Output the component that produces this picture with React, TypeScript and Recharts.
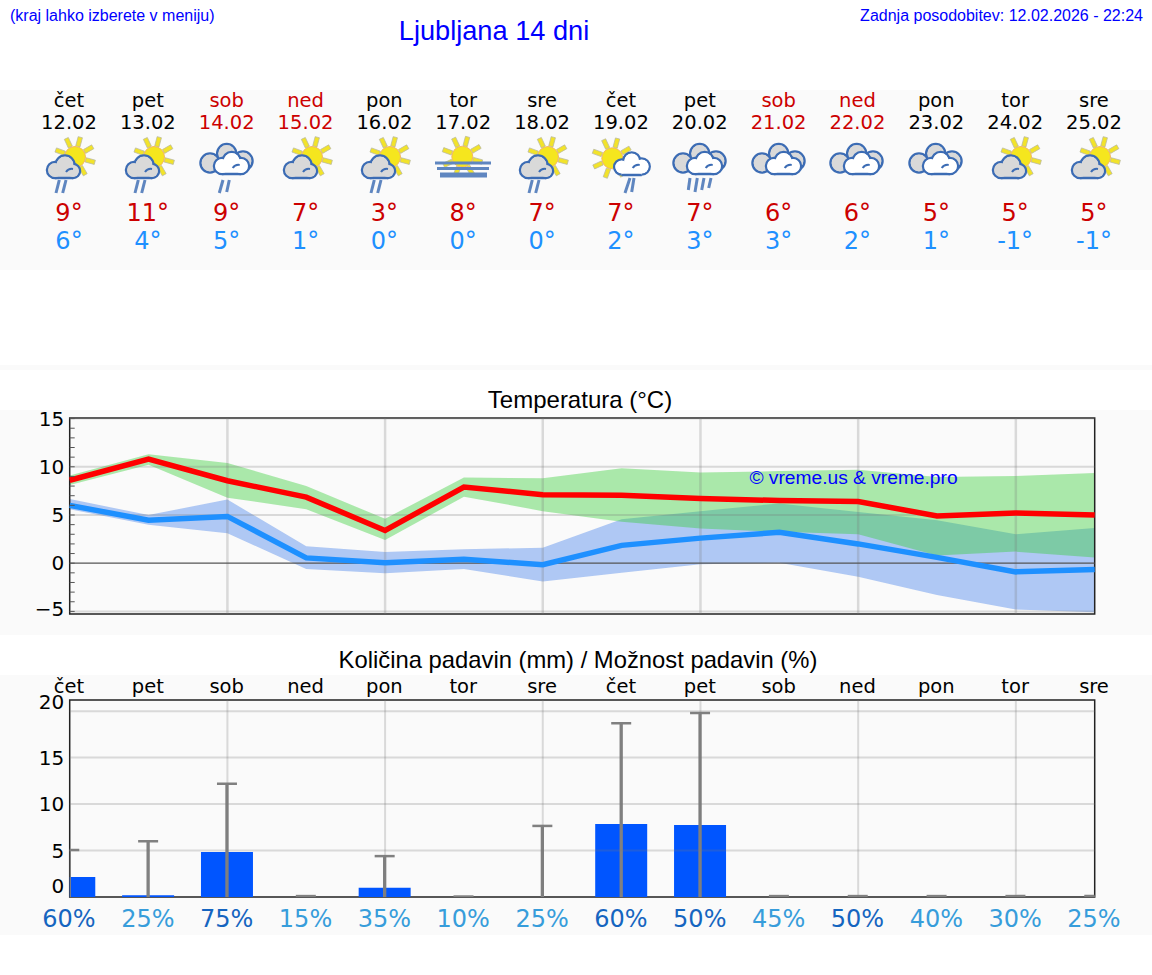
import {
  Area,
  Bar,
  ComposedChart,
  Line,
  ReferenceArea,
  ReferenceLine,
  XAxis,
  YAxis,
} from 'recharts'

const weekDays = ['čet', 'pet', 'sob', 'ned', 'pon', 'tor', 'sre', 'čet', 'pet', 'sob', 'ned', 'pon', 'tor', 'sre']
const dates = ['12.02', '13.02', '14.02', '15.02', '16.02', '17.02', '18.02', '19.02', '20.02', '21.02', '22.02', '23.02', '24.02', '25.02']
const weekendDates = ['14.02', '15.02', '21.02', '22.02']
const iconTypes = ['partlyRain', 'partlyRain', 'cloudRain', 'partly', 'partlyRain', 'fog', 'partlyRain', 'sunRain', 'cloudHeavy', 'cloud', 'cloud', 'cloud', 'partly', 'partly']
const maxLabels = [9, 11, 9, 7, 3, 8, 7, 7, 7, 6, 6, 5, 5, 5]
const minLabels = [6, 4, 5, 1, 0, 0, 0, 2, 3, 3, 2, 1, -1, -1]

const maxTemp = [8.6, 10.8, 8.55, 6.85, 3.4, 7.9, 7.1, 7.05, 6.7, 6.5, 6.4, 4.9, 5.2, 5.0]
const minTemp = [6.0, 4.45, 4.85, 0.55, 0.05, 0.4, -0.15, 1.85, 2.6, 3.2, 2.0, 0.6, -0.9, -0.65]
const maxBandLow = [8.1, 10.2, 6.8, 5.6, 2.4, 6.9, 5.4, 4.3, 3.6, 3.25, 3.0, 0.8, 1.2, 0.6]
const maxBandHigh = [9.1, 11.3, 10.4, 8.0, 4.6, 8.9, 8.8, 9.85, 9.4, 9.55, 9.7, 8.95, 9.05, 9.35]
const minBandLow = [5.6, 4.0, 3.1, -0.6, -1.05, -0.6, -1.9, -1.0, -0.1, 0.05, -1.4, -3.3, -4.8, -5.1]
const minBandHigh = [6.65, 5.0, 6.6, 1.75, 1.15, 1.45, 1.6, 4.55, 5.4, 6.2, 5.3, 4.45, 3.0, 3.65]

const rainAmount = [2.15, 0.2, 4.85, 0, 1.0, 0, 0, 7.85, 7.75, 0, 0, 0, 0, 0]
const rainTop = [5.05, 6.0, 12.2, 0.1, 4.4, 0.05, 7.65, 18.7, 19.8, 0.1, 0.1, 0.1, 0.1, 0.1]
const rainChance = [60, 25, 75, 15, 35, 10, 25, 60, 50, 45, 50, 40, 30, 25]

const tempTicks = [-5, -4, -3, -2, -1, 0, 1, 2, 3, 4, 5, 6, 7, 8, 9, 10, 11, 12, 13, 14, 15]
const tempGrid = [-5, 5, 10, 15]
const rainTicks = [0, 5, 10, 15, 20]
const rainGrid = [5, 10, 15, 20]
const gridDates = ['14.02', '16.02', '18.02', '20.02', '22.02', '24.02']

const tempRows = dates.map((date, i) => ({
  date,
  max: maxTemp[i],
  min: minTemp[i],
  maxBand: [maxBandLow[i], maxBandHigh[i]],
  minBand: [minBandLow[i], minBandHigh[i]],
}))

const rainRows = dates.map((date, i) => ({
  date,
  amount: rainAmount[i],
  top: rainTop[i],
}))

const DEJAVU = '"DejaVu Sans", sans-serif'
const ARIAL = '"Liberation Sans", Arial, sans-serif'
const GRID = 'rgba(120,120,120,0.25)'
const FRAME = '#222222'
const TEMP_DOMAIN = [-5.27, 15.06]
const RAIN_DOMAIN = [0, 21.2]

const PLOT_LEFT = 69.7
const PLOT_RIGHT_GAP = 57.3
const DAY_STEP = 78.846
const LABEL_LEFT = 69

const columnX = (i: number) => LABEL_LEFT + i * DAY_STEP

function TempTick({ x, y, payload }: any) {
  const major = payload.value % 5 === 0
  const label = payload.value < 0 ? `\u2212${-payload.value}` : payload.value
  return (
    <g>
      <line x1={x} x2={x + 5} y1={y} y2={y} stroke="#555" strokeWidth={1} />
      {major && (
        <text
          x={x - 5.5}
          y={payload.value === -5 ? y - 2 : y}
          dy={7}
          textAnchor="end"
          fontFamily={DEJAVU}
          fontSize={20}
          fill="#000"
        >
          {label}
        </text>
      )}
    </g>
  )
}

function RainTick({ x, y, payload }: any) {
  const shift = payload.value === 20 ? -9 : payload.value === 0 ? -11 : 0
  return (
    <text
      x={x - 5.5}
      y={y + shift}
      dy={7}
      textAnchor="end"
      fontFamily={DEJAVU}
      fontSize={20}
      fill="#000"
    >
      {payload.value}
    </text>
  )
}

function WeekTick({ x, y, index }: any) {
  return (
    <text x={x - 0.7} y={y} dy={7} textAnchor="middle" fontFamily={DEJAVU} fontSize={19.5} fill="#000">
      {weekDays[index]}
    </text>
  )
}

function ChanceTick({ x, y, index }: any) {
  const value = rainChance[index]
  return (
    <text
      x={x - 0.7}
      y={y}
      dy={9}
      textAnchor="middle"
      fontFamily={DEJAVU}
      fontSize={24}
      fill={value >= 50 ? '#1565c0' : '#379ddb'}
    >
      {value}%
    </text>
  )
}

// stem up from the baseline with a cap on top only
function Whisker({ x, y, width, height }: any) {
  const cx = x + width / 2
  return (
    <g>
      <line x1={cx} x2={cx} y1={y} y2={y + height} stroke="#808080" strokeWidth={3.3} />
      <line x1={cx - 10} x2={cx + 10} y1={y} y2={y} stroke="#808080" strokeWidth={2.5} />
    </g>
  )
}

const CLOUD_STROKE = '#3c6cb4'
const RAIN_STROKE = '#5f86c0'

function Sun({ cx, cy }: { cx: number; cy: number }) {
  const angles = [-160, -115, -75, -30, 15, 60, 110, 155]
  return (
    <g>
      {angles.map((a) => (
        <rect
          key={a}
          x={cx + 11}
          y={cy - 2.2}
          width={9.5}
          height={4.4}
          fill="#f2e32a"
          stroke="#b9b9a0"
          strokeWidth={0.7}
          transform={`rotate(${a} ${cx} ${cy})`}
        />
      ))}
      <circle cx={cx} cy={cy} r={10.5} fill="#f5e61e" stroke="#f4b860" strokeWidth={1} />
    </g>
  )
}

function Puffs({ puffs, bottom, fill }: { puffs: number[][]; bottom: number; fill: string }) {
  const left = puffs[0][0]
  const right = puffs[puffs.length - 1][0]
  return (
    <g>
      {puffs.map(([cx, cy, r]) => (
        <circle key={cx} cx={cx} cy={cy} r={r} fill={fill} stroke={CLOUD_STROKE} strokeWidth={2.5} />
      ))}
      <rect x={left} y={bottom - 8} width={right - left} height={8} fill={fill} />
      <line x1={left} x2={right} y1={bottom} y2={bottom} stroke={CLOUD_STROKE} strokeWidth={2.5} />
      {puffs.map(([cx, cy, r]) => (
        <circle key={`f${cx}`} cx={cx} cy={cy} r={r - 1.1} fill={fill} />
      ))}
      <path
        d={`M ${puffs[1][0] + 1} ${puffs[1][1] + 7} a 7 7 0 0 1 7 -3`}
        fill="none"
        stroke={CLOUD_STROKE}
        strokeWidth={2}
      />
    </g>
  )
}

function Rain({ lines }: { lines: number[][] }) {
  return (
    <g>
      {lines.map(([x1, y1, x2, y2]) => (
        <line key={x1} x1={x1} y1={y1} x2={x2} y2={y2} stroke={RAIN_STROKE} strokeWidth={3} />
      ))}
    </g>
  )
}

const smallCloud = [
  [21, 40, 8],
  [31, 35, 9.5],
  [39, 41, 7],
]
const backCloud = [
  [18, 33, 9.5],
  [34.7, 23.5, 9.5],
  [51, 31, 9.5],
]
const frontCloud = [
  [30, 36, 8],
  [39.7, 31, 9],
  [49, 36, 8],
]
const sunCloud = [
  [35.7, 37, 7.5],
  [45.7, 31, 8.5],
  [55.7, 36.5, 8],
]

function WeatherIcon({ type, left }: { type: string; left: number }) {
  const partly = type === 'partly' || type === 'partlyRain'
  const overcast = type === 'cloud' || type === 'cloudRain' || type === 'cloudHeavy'
  return (
    <svg
      width={70}
      height={66}
      style={{ position: 'absolute', left: left - 35, top: 130, overflow: 'visible' }}
    >
      {partly && <Sun cx={41} cy={27} />}
      {partly && <Puffs puffs={smallCloud} bottom={48} fill="#d9d9d9" />}
      {type === 'partlyRain' && <Rain lines={[[25.3, 50, 22, 63], [32, 50, 28.7, 63]]} />}
      {overcast && <Puffs puffs={backCloud} bottom={40} fill="#d9d9d9" />}
      {overcast && <Puffs puffs={frontCloud} bottom={44} fill="#ffffff" />}
      {type === 'cloudRain' && <Rain lines={[[31, 50, 27.3, 63], [37.3, 50, 34.7, 62]]} />}
      {type === 'cloudHeavy' && (
        <Rain lines={[[25, 48, 23.3, 60], [32.3, 48, 30, 62], [39, 48, 36.7, 60], [46, 48, 43.7, 58]]} />
      )}
      {type === 'sunRain' && <Sun cx={26.3} cy={28.3} />}
      {type === 'sunRain' && <Puffs puffs={sunCloud} bottom={45} fill="#ffffff" />}
      {type === 'sunRain' && <Rain lines={[[44, 48, 39, 63], [48, 48, 45.7, 62]]} />}
      {type === 'fog' && <Sun cx={34.3} cy={26.7} />}
      {type === 'fog' && (
        <g fill={RAIN_STROKE}>
          <rect x={7} y={31.5} width={56} height={3} />
          <rect x={9} y={37} width={52} height={3} />
          <rect x={12} y={42.5} width={47} height={5} />
        </g>
      )}
    </svg>
  )
}

function Strip({ top, height }: { top: number; height: number }) {
  return (
    <div style={{ position: 'absolute', left: 0, top, width: 1152, height, background: '#fafafa' }} />
  )
}

function Label({
  x,
  y,
  text,
  size,
  color,
  font = DEJAVU,
}: {
  x: number
  y: number
  text: string
  size: number
  color: string
  font?: string
}) {
  return (
    <div
      style={{
        position: 'absolute',
        left: x,
        top: y,
        transform: 'translate(-50%, -50%)',
        fontFamily: font,
        fontSize: size,
        color,
        whiteSpace: 'nowrap',
        lineHeight: 1.2,
      }}
    >
      {text}
    </div>
  )
}

function TempChart() {
  return (
    <ComposedChart
      width={1152}
      height={225}
      data={tempRows}
      margin={{ top: 8, right: PLOT_RIGHT_GAP, bottom: 21, left: 0 }}
      style={{ position: 'absolute', left: 0, top: 410 }}
    >
      <XAxis dataKey="date" scale="point" hide padding={{ left: 0, right: 0 }} />
      <YAxis
        width={PLOT_LEFT}
        domain={TEMP_DOMAIN}
        ticks={tempTicks}
        interval={0}
        allowDataOverflow
        axisLine={false}
        tickLine={false}
        tickSize={0}
        tickMargin={0}
        tick={<TempTick />}
      />
      <Area dataKey="minBand" stroke="none" fill="#6495ed" fillOpacity={0.5} isAnimationActive={false} />
      <Area dataKey="maxBand" stroke="none" fill="#32cd32" fillOpacity={0.4} isAnimationActive={false} />
      {tempGrid.map((v) => (
        <ReferenceLine key={v} y={v} stroke={GRID} strokeWidth={2} />
      ))}
      {gridDates.map((d) => (
        <ReferenceLine key={d} x={d} stroke={GRID} strokeWidth={2.5} />
      ))}
      <ReferenceLine y={0} stroke="#555" strokeWidth={1.3} />
      <ReferenceArea
        x1={dates[0]}
        x2={dates[13]}
        y1={TEMP_DOMAIN[0]}
        y2={TEMP_DOMAIN[1]}
        fill="none"
        stroke={FRAME}
        strokeWidth={1.5}
      />
      <Line dataKey="min" stroke="#1e90ff" strokeWidth={5.5} dot={false} isAnimationActive={false} />
      <Line dataKey="max" stroke="#ff0000" strokeWidth={5.5} dot={false} isAnimationActive={false} />
    </ComposedChart>
  )
}

function RainChart() {
  return (
    <ComposedChart
      width={1152}
      height={260}
      data={rainRows}
      margin={{ top: 0, right: PLOT_RIGHT_GAP, bottom: 0, left: 0 }}
      style={{ position: 'absolute', left: 0, top: 675 }}
    >
      <XAxis
        xAxisId="week"
        orientation="top"
        dataKey="date"
        scale="point"
        height={25}
        interval={0}
        allowDataOverflow
        axisLine={false}
        tickLine={false}
        tickSize={0}
        tickMargin={0}
        tick={(props: any) => <WeekTick {...props} y={11} />}
      />
      <XAxis
        xAxisId="chance"
        dataKey="date"
        scale="point"
        height={38}
        interval={0}
        allowDataOverflow
        axisLine={false}
        tickLine={false}
        tickSize={0}
        tickMargin={0}
        tick={(props: any) => <ChanceTick {...props} y={243} />}
      />
      <YAxis
        width={PLOT_LEFT}
        domain={RAIN_DOMAIN}
        ticks={rainTicks}
        interval={0}
        allowDataOverflow
        axisLine={false}
        tickLine={false}
        tickSize={0}
        tickMargin={0}
        tick={<RainTick />}
      />
      {rainGrid.map((v) => (
        <ReferenceLine key={v} xAxisId="chance" y={v} stroke={GRID} strokeWidth={2} />
      ))}
      {gridDates.map((d) => (
        <ReferenceLine key={d} xAxisId="chance" x={d} stroke={GRID} strokeWidth={2} />
      ))}
      <Bar xAxisId="chance" dataKey="amount" barSize={52} fill="#0055ff" isAnimationActive={false} />
      <Bar xAxisId="week" dataKey="top" barSize={52} shape={<Whisker />} isAnimationActive={false} />
      <ReferenceArea
        xAxisId="chance"
        x1={dates[0]}
        x2={dates[13]}
        y1={RAIN_DOMAIN[0]}
        y2={RAIN_DOMAIN[1]}
        fill="none"
        stroke={FRAME}
        strokeWidth={1.5}
      />
    </ComposedChart>
  )
}

export default function App() {
  return (
    <div
      style={{
        position: 'absolute',
        left: 0,
        top: 0,
        width: 1152,
        height: 975,
        background: '#ffffff',
        overflow: 'hidden',
      }}
    >
      <Strip top={90} height={180} />
      <Strip top={365} height={5} />
      <Strip top={410} height={225} />
      <Strip top={675} height={260} />

      <div style={{ position: 'absolute', left: 10, top: 7, fontFamily: ARIAL, fontSize: 16, color: '#0000ff' }}>
        (kraj lahko izberete v meniju)
      </div>
      <Label x={494} y={31} text="Ljubljana 14 dni" size={27.2} color="#0000ff" font={ARIAL} />
      <div style={{ position: 'absolute', right: 9, top: 7, fontFamily: ARIAL, fontSize: 16, color: '#0000ff' }}>
        Zadnja posodobitev: 12.02.2026 - 22:24
      </div>

      {dates.map((date, i) => {
        const color = weekendDates.includes(date) ? '#cc0000' : '#000000'
        return (
          <div key={date}>
            <Label x={columnX(i)} y={101} text={weekDays[i]} size={19.5} color={color} />
            <Label x={columnX(i)} y={123} text={date} size={19.5} color={color} />
            <WeatherIcon type={iconTypes[i]} left={columnX(i)} />
            <Label x={columnX(i)} y={213} text={`${maxLabels[i]}°`} size={24} color="#cc0000" />
            <Label x={columnX(i)} y={241} text={`${minLabels[i]}°`} size={24} color="#1e90ff" />
          </div>
        )
      })}

      <Label x={580} y={400} text="Temperatura (°C)" size={24} color="#000" font={ARIAL} />
      <TempChart />
      <Label x={853.5} y={478} text="© vreme.us & vreme.pro" size={19.2} color="#0000ff" font={ARIAL} />

      <Label x={578} y={660} text="Količina padavin (mm) / Možnost padavin (%)" size={23.8} color="#000" font={ARIAL} />
      <RainChart />
    </div>
  )
}
